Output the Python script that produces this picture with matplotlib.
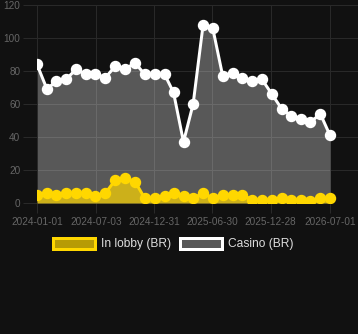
import pandas as pd
import matplotlib
matplotlib.use("Agg")
import matplotlib.pyplot as plt
import matplotlib.dates as mdates
from matplotlib.patches import Patch

# monthly data points
dates = pd.date_range("2024-01-01", periods=31, freq="MS")
casino = [84, 69, 74, 75, 81, 78, 78, 76, 83, 81, 85, 78, 78, 78, 67,
          37, 60, 108, 106, 77, 79, 76, 74, 75, 66, 57, 53, 51, 49, 54, 41]
lobby = [5, 6, 5, 6, 6, 6, 4, 6, 14, 15, 13, 3, 3, 4, 6,
         4, 3, 6, 3, 5, 5, 5, 2, 2, 2, 3, 2, 2, 1, 3, 3]
tick_dates = ["2024-01-01", "2024-07-03", "2024-12-31",
              "2025-06-30", "2025-12-28", "2026-07-01"]
y_ticks = [0, 20, 40, 60, 80, 100, 120]

BG = "#111111"
GRID = "#292929"
TXT = "#666666"
YEL = "#ffd700"
WHITE = "#ffffff"

plt.rcParams["font.family"] = ["Liberation Sans", "DejaVu Sans"]

W, H, DPI = 358, 334, 100
fig = plt.figure(figsize=(W / DPI, H / DPI), dpi=DPI, facecolor=BG)
# axes box in pixel terms: left 37, right 358, top 5, bottom 203
ax = fig.add_axes([37 / W, 1 - 203 / H, (358 - 37) / W, (203 - 5) / H])
ax.set_facecolor(BG)

x = mdates.date2num(dates)
x0 = mdates.date2num(pd.Timestamp("2024-01-01"))
x1 = mdates.date2num(pd.Timestamp("2026-07-01"))
span = (x1 - x0) / (330 - 37)  # days per pixel
ax.set_xlim(x0, x0 + span * (358 - 37))
ax.set_ylim(0, 120)

px = 72 / DPI  # points per pixel
ax.fill_between(x, casino, color=(1, 1, 1, 0.3), lw=0, zorder=2)
ax.plot(x, casino, color=WHITE, lw=3 * px, marker="o", ms=10 * px,
        mec=WHITE, mfc=WHITE, zorder=3, solid_joinstyle="round")
ax.fill_between(x, lobby, color=(1, 0.843, 0, 0.7), lw=0, zorder=4)
ax.plot(x, lobby, color=YEL, lw=3 * px, marker="o", ms=10 * px,
        mec=YEL, mfc=YEL, zorder=5, solid_joinstyle="round")

ax.set_xticks(mdates.date2num(pd.to_datetime(tick_dates)))
ax.set_xticklabels(tick_dates)
ax.set_yticks(y_ticks)
ax.grid(True, color=GRID, lw=1 * px, zorder=0)
ax.tick_params(axis="y", colors=GRID, labelcolor=TXT, length=10, width=px,
               pad=2, labelsize=10 * px)
ax.tick_params(axis="x", colors=GRID, labelcolor=TXT, length=7, width=px,
               pad=3, labelsize=10 * px)
for s in ax.spines.values():
    s.set_visible(False)
ax.spines["left"].set_visible(True)
ax.spines["left"].set_color(GRID)
ax.spines["left"].set_linewidth(px)

handles = [
    Patch(facecolor=(1, 0.843, 0, 0.7), edgecolor=YEL, lw=3 * px, label="In lobby (BR)"),
    Patch(facecolor=(1, 1, 1, 0.3), edgecolor=WHITE, lw=3 * px, label="Casino (BR)"),
]
leg = fig.legend(handles=handles, loc="center", bbox_to_anchor=(173 / W, 1 - 244 / H),
                 ncol=2, frameon=False, fontsize=12 * px, handlelength=3.5,
                 handleheight=1.1, handletextpad=0.5, columnspacing=0.75,
                 borderaxespad=0)
for t in leg.get_texts():
    t.set_color("#dddddd")

fig.savefig("out.png", dpi=DPI, facecolor=BG)
